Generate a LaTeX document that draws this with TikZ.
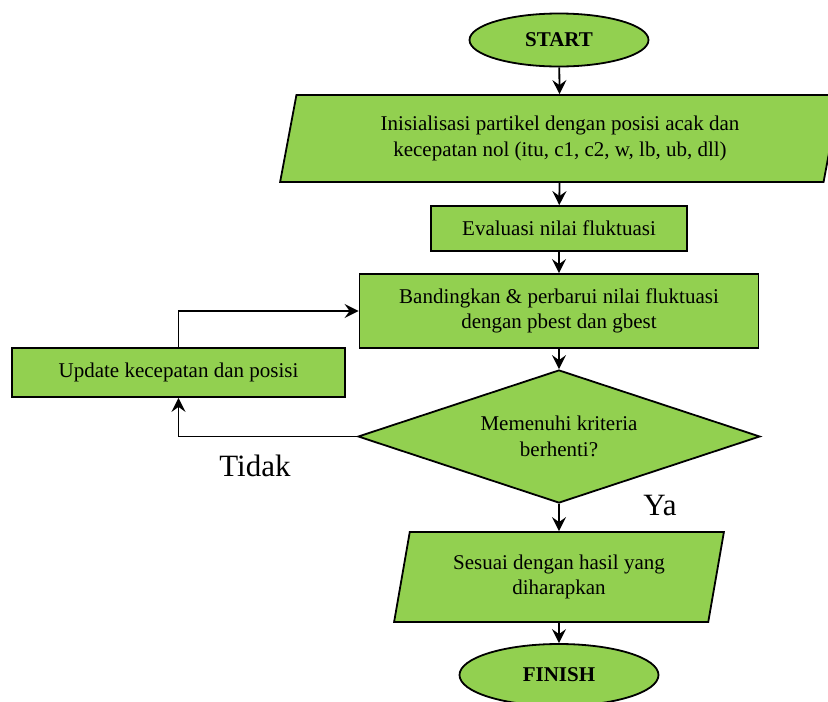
\documentclass[tikz,border=0pt]{standalone}
\usepackage{fontspec}
\setmainfont{Liberation Serif}
\usetikzlibrary{shapes.geometric, arrows.meta}
\definecolor{hijau}{HTML}{92D050}

\begin{document}
\begin{tikzpicture}[x=1pt, y=-1pt,
  teks/.style={font=\fontsize{21}{25.5}\selectfont, align=center},
  kotak/.style={teks, draw, line width=1.8pt, fill=hijau, inner sep=0pt},
  oval/.style={kotak, ellipse, font=\fontsize{21}{25.5}\selectfont\bfseries},
  jajar/.style={kotak, trapezium, trapezium left angle=76, trapezium right angle=104, trapezium stretches=true},
  belah/.style={kotak, diamond, aspect=3},
  panah/.style={line width=1.8pt, -{Stealth[length=14pt, width=14pt, inset=5pt]}},
  besar/.style={font=\fontsize{31}{36}\selectfont}]
\clip (0,0) rectangle (828,702);
% 节点
\node[oval, minimum width=179pt, minimum height=53pt] (start) at (559,40) {START};
\node[jajar, minimum width=560pt, minimum height=87pt] (init) at (560,138.5) {Inisialisasi partikel dengan posisi acak dan\\kecepatan nol (itu, c1, c2, w, lb, ub, dll)};
\node[kotak, minimum width=256pt, minimum height=45pt] (eval) at (559,228.5) {Evaluasi nilai fluktuasi};
\node[kotak, minimum width=399pt, minimum height=74pt] (banding) at (559,311) {Bandingkan \& perbarui nilai fluktuasi\\dengan pbest dan gbest};
\node[kotak, minimum width=333pt, minimum height=49pt] (update) at (178.5,372.5) {Update kecepatan dan posisi};
\node[belah, minimum width=402pt, minimum height=133pt] (cek) at (559,436.5) {Memenuhi kriteria\\berhenti?};
\node[jajar, minimum width=330pt, minimum height=90pt] (hasil) at (559,577) {Sesuai dengan hasil yang\\diharapkan};
\node[oval, minimum width=199pt, minimum height=62pt] (finish) at (559,675) {FINISH};
\node[besar] (tidak) at (255,466) {Tidak};
\node[besar] (ya) at (660,505) {Ya};
% 箭头
\draw[panah] (start) -- (init);
\draw[panah] (init) -- (eval);
\draw[panah] (eval) -- (banding);
\draw[panah] (banding) -- (cek);
\draw[panah] (cek) -- (hasil);
\draw[panah] (hasil) -- (finish);
\draw[panah] (cek.west) -| (update.south);
\draw[panah] (update.north) |- (banding.west);
\end{tikzpicture}
\end{document}
